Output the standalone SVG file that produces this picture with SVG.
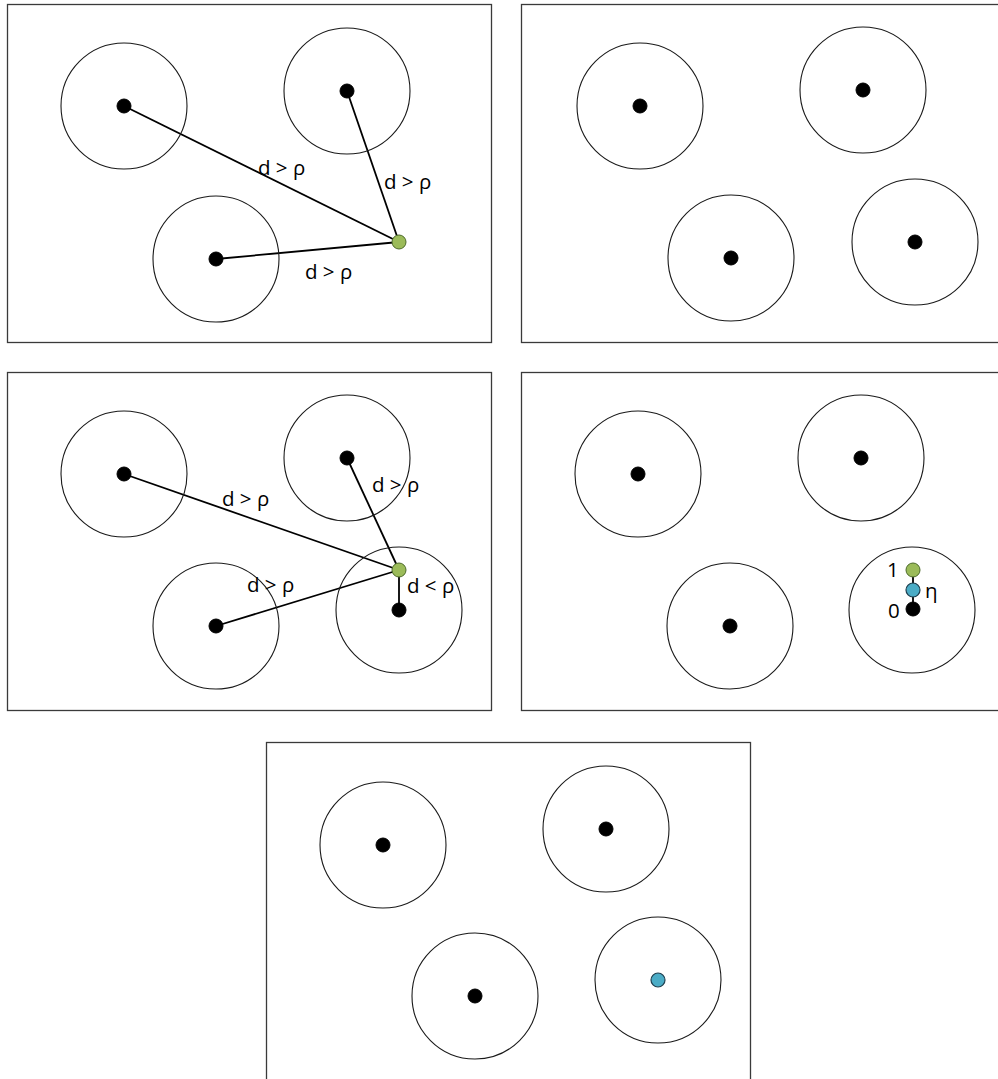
<svg xmlns="http://www.w3.org/2000/svg" width="998" height="1079" viewBox="0 0 998 1079">
<style>
.frame{fill:#fff;stroke:#3a3a3a;stroke-width:1.3}
.ring{fill:none;stroke:#1a1a1a;stroke-width:1.1}
.dot{fill:#000;stroke:#000;stroke-width:1}
.green{fill:#9BBB59;stroke:#4d6b2a;stroke-width:1}
.blue{fill:#4BACC6;stroke:#1f3f4f;stroke-width:1.2}
.link{stroke:#000;stroke-width:1.8;fill:none}
.lbl{font-family:"Open Sans","DejaVu Sans",sans-serif;font-size:20.5px;fill:#000}
</style>
<rect width="998" height="1079" fill="#fff"/>

<!-- Panel 1 -->
<g id="panel1">
<rect class="frame" x="7.5" y="4.5" width="484" height="338"/>
<g id="p1-connectors">
<line class="link" x1="124" y1="106" x2="399" y2="242"/>
<line class="link" x1="347" y1="91" x2="399" y2="242"/>
<line class="link" x1="216" y1="259" x2="399" y2="242"/>
</g>
<g id="p1-nodeA"><circle class="ring" cx="124" cy="106" r="63"/><circle class="dot" cx="124" cy="106" r="7"/></g>
<g id="p1-nodeB"><circle class="ring" cx="347" cy="91" r="63"/><circle class="dot" cx="347" cy="91" r="7"/></g>
<g id="p1-nodeC"><circle class="ring" cx="216" cy="259" r="63"/><circle class="dot" cx="216" cy="259" r="7"/></g>
<g id="p1-point"><circle class="green" cx="399" cy="242" r="7"/></g>
<text class="lbl" x="258" y="175">d &gt; ρ</text>
<text class="lbl" x="384" y="189">d &gt; ρ</text>
<text class="lbl" x="305" y="279">d &gt; ρ</text>
</g>

<!-- Panel 2 -->
<g id="panel2">
<rect class="frame" x="521.5" y="4.5" width="490" height="338"/>
<g id="p2-nodeA"><circle class="ring" cx="640" cy="106" r="63"/><circle class="dot" cx="640" cy="106" r="7"/></g>
<g id="p2-nodeB"><circle class="ring" cx="863" cy="90" r="63"/><circle class="dot" cx="863" cy="90" r="7"/></g>
<g id="p2-nodeC"><circle class="ring" cx="731" cy="258" r="63"/><circle class="dot" cx="731" cy="258" r="7"/></g>
<g id="p2-nodeD"><circle class="ring" cx="915" cy="242" r="63"/><circle class="dot" cx="915" cy="242" r="7"/></g>
</g>

<!-- Panel 3 -->
<g id="panel3">
<rect class="frame" x="7.5" y="372.5" width="484" height="338"/>
<g id="p3-connectors">
<line class="link" x1="124" y1="474" x2="399" y2="570"/>
<line class="link" x1="347" y1="458" x2="399" y2="570"/>
<line class="link" x1="216" y1="626" x2="399" y2="570"/>
<line class="link" x1="399" y1="570" x2="399" y2="610"/>
</g>
<g id="p3-nodeA"><circle class="ring" cx="124" cy="474" r="63"/><circle class="dot" cx="124" cy="474" r="7"/></g>
<g id="p3-nodeB"><circle class="ring" cx="347" cy="458" r="63"/><circle class="dot" cx="347" cy="458" r="7"/></g>
<g id="p3-nodeC"><circle class="ring" cx="216" cy="626" r="63"/><circle class="dot" cx="216" cy="626" r="7"/></g>
<g id="p3-nodeD"><circle class="ring" cx="399" cy="610" r="63"/><circle class="dot" cx="399" cy="610" r="7"/></g>
<g id="p3-point"><circle class="green" cx="399" cy="570" r="7"/></g>
<text class="lbl" x="222" y="506">d &gt; ρ</text>
<text class="lbl" x="372" y="492">d &gt; ρ</text>
<text class="lbl" x="247" y="592">d &gt; ρ</text>
<text class="lbl" x="407" y="593">d &lt; ρ</text>
</g>

<!-- Panel 4 -->
<g id="panel4">
<rect class="frame" x="521.5" y="372.5" width="490" height="338"/>
<g id="p4-nodeA"><circle class="ring" cx="638" cy="474" r="63"/><circle class="dot" cx="638" cy="474" r="7"/></g>
<g id="p4-nodeB"><circle class="ring" cx="861" cy="458" r="63"/><circle class="dot" cx="861" cy="458" r="7"/></g>
<g id="p4-nodeC"><circle class="ring" cx="730" cy="626" r="63"/><circle class="dot" cx="730" cy="626" r="7"/></g>
<g id="p4-nodeD"><circle class="ring" cx="912" cy="610" r="63"/></g>
<g id="p4-connectors">
<line class="link" x1="913" y1="570" x2="913" y2="609"/>
</g>
<g id="p4-zero"><circle class="dot" cx="913" cy="609" r="7"/></g>
<g id="p4-eta"><circle class="blue" cx="913" cy="590" r="7"/></g>
<g id="p4-one"><circle class="green" cx="913" cy="570" r="7"/></g>
<text class="lbl" x="887" y="577">1</text>
<text class="lbl" x="925" y="598">η</text>
<text class="lbl" x="888" y="618">0</text>
</g>

<!-- Panel 5 -->
<g id="panel5">
<rect class="frame" x="266.5" y="742.5" width="484" height="345"/>
<g id="p5-nodeA"><circle class="ring" cx="383" cy="845" r="63"/><circle class="dot" cx="383" cy="845" r="7"/></g>
<g id="p5-nodeB"><circle class="ring" cx="606" cy="829" r="63"/><circle class="dot" cx="606" cy="829" r="7"/></g>
<g id="p5-nodeC"><circle class="ring" cx="475" cy="996" r="63"/><circle class="dot" cx="475" cy="996" r="7"/></g>
<g id="p5-nodeD"><circle class="ring" cx="658" cy="980" r="63"/><circle class="blue" cx="658" cy="980" r="7"/></g>
</g>
</svg>
